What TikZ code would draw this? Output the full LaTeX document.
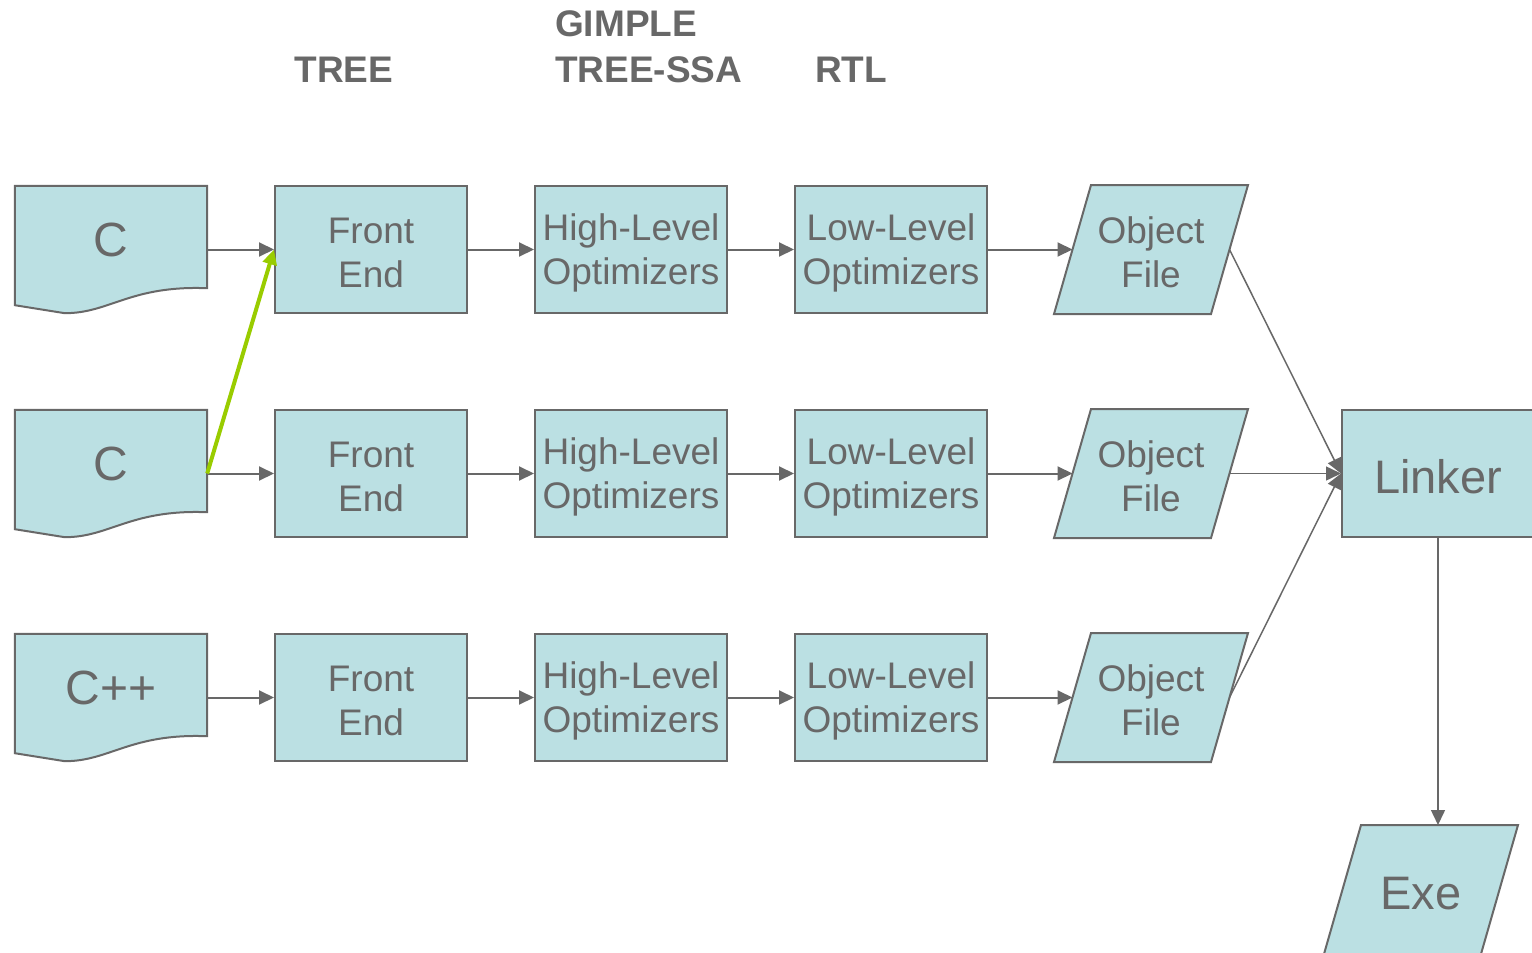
\documentclass[tikz,border=0pt]{standalone}
\usepackage{fontspec}
\setmainfont{Liberation Sans}
\usetikzlibrary{arrows.meta,backgrounds}
\definecolor{boxfill}{RGB}{187,224,227}
\definecolor{boxline}{RGB}{104,104,104}
\definecolor{hintgreen}{RGB}{153,204,0}
\tikzset{
  stage/.style={draw=boxline, fill=boxfill, line width=2pt, minimum width=192,
    minimum height=127, inner sep=0pt, text=boxline, align=center, text height=77pt,
    font=\fontsize{37}{44}\selectfont},
  objfile/.style={stage, draw=none, fill=none, minimum width=155},
  srcdoc/.style={minimum width=192, minimum height=127, inner sep=0pt,
    text=boxline, text depth=19pt, font=\fontsize{48}{56}\selectfont},
  docshape/.style={draw=boxline, fill=boxfill, line width=2pt},
  irlabel/.style={inner sep=0pt, text=boxline, font=\fontsize{37}{46}\selectfont\bfseries},
  bigtext/.style={text height=40pt, font=\fontsize{47}{56}\selectfont},
  flow/.style={draw=boxline, line width=2pt, -{Triangle[length=15pt,width=14pt]}},
  hint/.style={draw=hintgreen, line width=4pt, -{Triangle[length=15pt,width=14pt]}}
}
\begin{document}
\begin{tikzpicture}[x=1pt,y=-1pt]
  \useasboundingbox (0,0) rectangle (1532,953);
  % intermediate forms
  \node[irlabel] (tree) at (344,70) {TREE};
  \node[irlabel, anchor=west, align=left] (gimple) at (555,47) {GIMPLE\\TREE-SSA};
  \node[irlabel] (rtl) at (851,70) {RTL};
  % sources
  \node[srcdoc] (src1) at (111,249.5) {C};
  \node[srcdoc] (src2) at (111,473.5) {C};
  \node[srcdoc] (src3) at (111,697.5) {C++};
  % passes
  \node[stage] (fe1) at (371,249.5) {Front\\End};
  \node[stage] (fe2) at (371,473.5) {Front\\End};
  \node[stage] (fe3) at (371,697.5) {Front\\End};
  \node[stage] (hl1) at (631,249.5) {High-Level\\Optimizers};
  \node[stage] (hl2) at (631,473.5) {High-Level\\Optimizers};
  \node[stage] (hl3) at (631,697.5) {High-Level\\Optimizers};
  \node[stage] (ll1) at (891,249.5) {Low-Level\\Optimizers};
  \node[stage] (ll2) at (891,473.5) {Low-Level\\Optimizers};
  \node[stage] (ll3) at (891,697.5) {Low-Level\\Optimizers};
  \node[objfile] (obj1) at (1151,249.5) {Object\\File};
  \node[objfile] (obj2) at (1151,473.5) {Object\\File};
  \node[objfile] (obj3) at (1151,697.5) {Object\\File};
  \node[stage, bigtext] (linker) at (1438,473.5) {Linker};
  \node[objfile, bigtext] (exe) at (1421,889.5) {Exe};
  % shapes behind the text
  \begin{scope}[on background layer]
    \foreach \s in {src1,src2,src3}
      \path[docshape] (\s.north west) -- (\s.north east) -- ([yshift=25]\s.south east)
        .. controls ([xshift=-77,yshift=28]\s.south east) and ([xshift=95]\s.south west)
        .. ([xshift=50]\s.south west) -- ([yshift=8]\s.south west) -- cycle;
    \foreach \o in {obj1,obj2,obj3,exe}
      \path[docshape] ([xshift=-18.5]\o.south west) -- ([xshift=18.5]\o.north west)
        -- ([xshift=18.5]\o.north east) -- ([xshift=-18.5]\o.south east) -- cycle;
  \end{scope}
  % connectors
  \draw[flow] (src1) -- (fe1);
  \draw[flow] (src2) -- (fe2);
  \draw[flow] (src3) -- (fe3);
  \draw[flow] (fe1) -- (hl1);
  \draw[flow] (fe2) -- (hl2);
  \draw[flow] (fe3) -- (hl3);
  \draw[flow] (hl1) -- (ll1);
  \draw[flow] (hl2) -- (ll2);
  \draw[flow] (hl3) -- (ll3);
  \draw[flow] (ll1) -- (obj1);
  \draw[flow] (ll2) -- (obj2);
  \draw[flow] (ll3) -- (obj3);
  \draw[flow, line width=1.5pt] (obj1.east) -- (linker.west);
  \draw[flow, line width=1.5pt] (obj2.east) -- (linker.west);
  \draw[flow, line width=1.5pt] (obj3.east) -- (linker.west);
  \draw[flow, line width=1.5pt] (linker) -- (linker |- exe.north);
  \draw[hint] (src2.east) -- (fe1.west);
\end{tikzpicture}
\end{document}
